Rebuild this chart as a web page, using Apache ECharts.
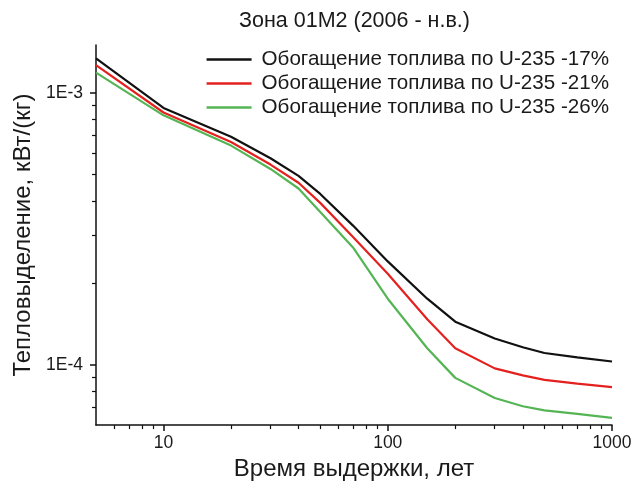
<!DOCTYPE html>
<html>
<head>
<meta charset="utf-8">
<script src="https://cdn.jsdelivr.net/npm/echarts@6/dist/echarts.min.js"></script>
<style>
  html, body { margin: 0; padding: 0; background: #fff; }
  #chart { width: 641px; height: 486px; }
</style>
</head>
<body>
<div id="chart"></div>
<script>
// Cooling time, years
const years = [5, 10, 20, 30, 40, 50, 70, 100, 150, 200, 300, 400, 500, 700, 1000];

// Decay heat, kW/kg, for three fuel enrichments
const heat17 = [1.34e-3, 8.8e-4, 6.9e-4, 5.75e-4, 4.95e-4, 4.25e-4, 3.25e-4, 2.4e-4, 1.75e-4, 1.44e-4, 1.25e-4, 1.16e-4, 1.105e-4, 1.065e-4, 1.028e-4];
const heat21 = [1.266e-3, 8.47e-4, 6.6e-4, 5.45e-4, 4.67e-4, 3.94e-4, 2.95e-4, 2.16e-4, 1.47e-4, 1.15e-4, 9.7e-5, 9.14e-5, 8.8e-5, 8.52e-5, 8.27e-5];
const heat26 = [1.187e-3, 8.27e-4, 6.4e-4, 5.25e-4, 4.45e-4, 3.65e-4, 2.7e-4, 1.75e-4, 1.15e-4, 8.95e-5, 7.55e-5, 7.04e-5, 6.8e-5, 6.6e-5, 6.38e-5];

const seriesNames = [
  'Обогащение топлива по U-235 -17%',
  'Обогащение топлива по U-235 -21%',
  'Обогащение топлива по U-235 -26%'
];

// Tick positions on the logarithmic axes
const xMajorTicks = [10, 100, 1000];
const xMinorTicks = [6, 7, 8, 9, 20, 30, 40, 50, 60, 70, 80, 90, 200, 300, 400, 500, 600, 700, 800, 900];
const yMajorTicks = [1e-4, 1e-3];
const yMinorTicks = [7e-5, 8e-5, 9e-5, 2e-4, 3e-4, 4e-4, 5e-4, 6e-4, 7e-4, 8e-4, 9e-4];

const FONT = '"Liberation Sans", Arial, sans-serif';
const TEXT = '#1a1a1a';
const colors = ['#111111', '#e3221f', '#55b555'];

const pairs = arr => years.map((y, i) => [y, arr[i]]);

const chart = echarts.init(document.getElementById('chart'), null, { renderer: 'canvas' });

const baseX = { type: 'log', logBase: 10, min: 5, max: 1000, gridIndex: 0, position: 'bottom', splitLine: { show: false } };
const baseY = { type: 'log', logBase: 10, min: 6e-5, max: 1.5e-3, gridIndex: 0, position: 'left', splitLine: { show: false } };

chart.setOption({
  animation: false,
  color: colors,
  title: {
    text: 'Зона 01М2 (2006 - н.в.)',
    left: 234,
    top: 5,
    textStyle: { fontFamily: FONT, fontSize: 21.5, fontWeight: 'normal', color: TEXT }
  },
  legend: {
    orient: 'vertical',
    right: 27,
    top: 44,
    align: 'left',
    icon: 'rect',
    itemWidth: 45,
    itemHeight: 2.6,
    itemGap: 3,
    textStyle: { fontFamily: FONT, fontSize: 20.6, color: TEXT, lineHeight: 20, padding: [0, 0, 0, 5] },
    data: seriesNames
  },
  grid: { left: 96, right: 29, top: 45, bottom: 60, containLabel: false },
  xAxis: [
    Object.assign({}, baseX, {
      name: 'Время выдержки, лет',
      nameLocation: 'middle',
      nameGap: 31,
      nameTextStyle: { fontFamily: FONT, fontSize: 24, color: TEXT },
      axisLine: { show: true, lineStyle: { color: '#111', width: 1.5 } },
      axisTick: { show: true, inside: false, length: 6, customValues: xMajorTicks, lineStyle: { color: '#111', width: 1.5 } },
      axisLabel: {
        show: true, margin: 9, customValues: xMajorTicks,
        fontFamily: FONT, fontSize: 17.5, color: TEXT,
        formatter: v => String(Math.round(v))
      }
    }),
    Object.assign({}, baseX, {
      axisLine: { show: false },
      axisTick: { show: true, inside: false, length: 4, customValues: xMinorTicks, lineStyle: { color: '#111', width: 1.2 } },
      axisLabel: { show: false }
    })
  ],
  yAxis: [
    Object.assign({}, baseY, {
      name: 'Тепловыделение, кВт/(кг)',
      nameLocation: 'middle',
      nameGap: 60,
      nameTextStyle: { fontFamily: FONT, fontSize: 24, color: TEXT },
      axisLine: { show: true, lineStyle: { color: '#111', width: 1.5 } },
      axisTick: { show: true, inside: false, length: 6, customValues: yMajorTicks, lineStyle: { color: '#111', width: 1.5 } },
      axisLabel: {
        show: true, margin: 13, customValues: yMajorTicks,
        fontFamily: FONT, fontSize: 17.5, color: TEXT,
        formatter: v => '1E' + Math.round(Math.log10(v))
      }
    }),
    Object.assign({}, baseY, {
      axisLine: { show: false },
      axisTick: { show: true, inside: false, length: 4, customValues: yMinorTicks, lineStyle: { color: '#111', width: 1.2 } },
      axisLabel: { show: false }
    })
  ],
  series: [heat17, heat21, heat26].map((arr, i) => ({
    name: seriesNames[i],
    type: 'line',
    xAxisIndex: 0,
    yAxisIndex: 0,
    data: pairs(arr),
    showSymbol: false,
    symbol: 'none',
    smooth: false,
    lineStyle: { width: 2.2, color: colors[i] },
    z: 3 - i
  }))
});
</script>
</body>
</html>
